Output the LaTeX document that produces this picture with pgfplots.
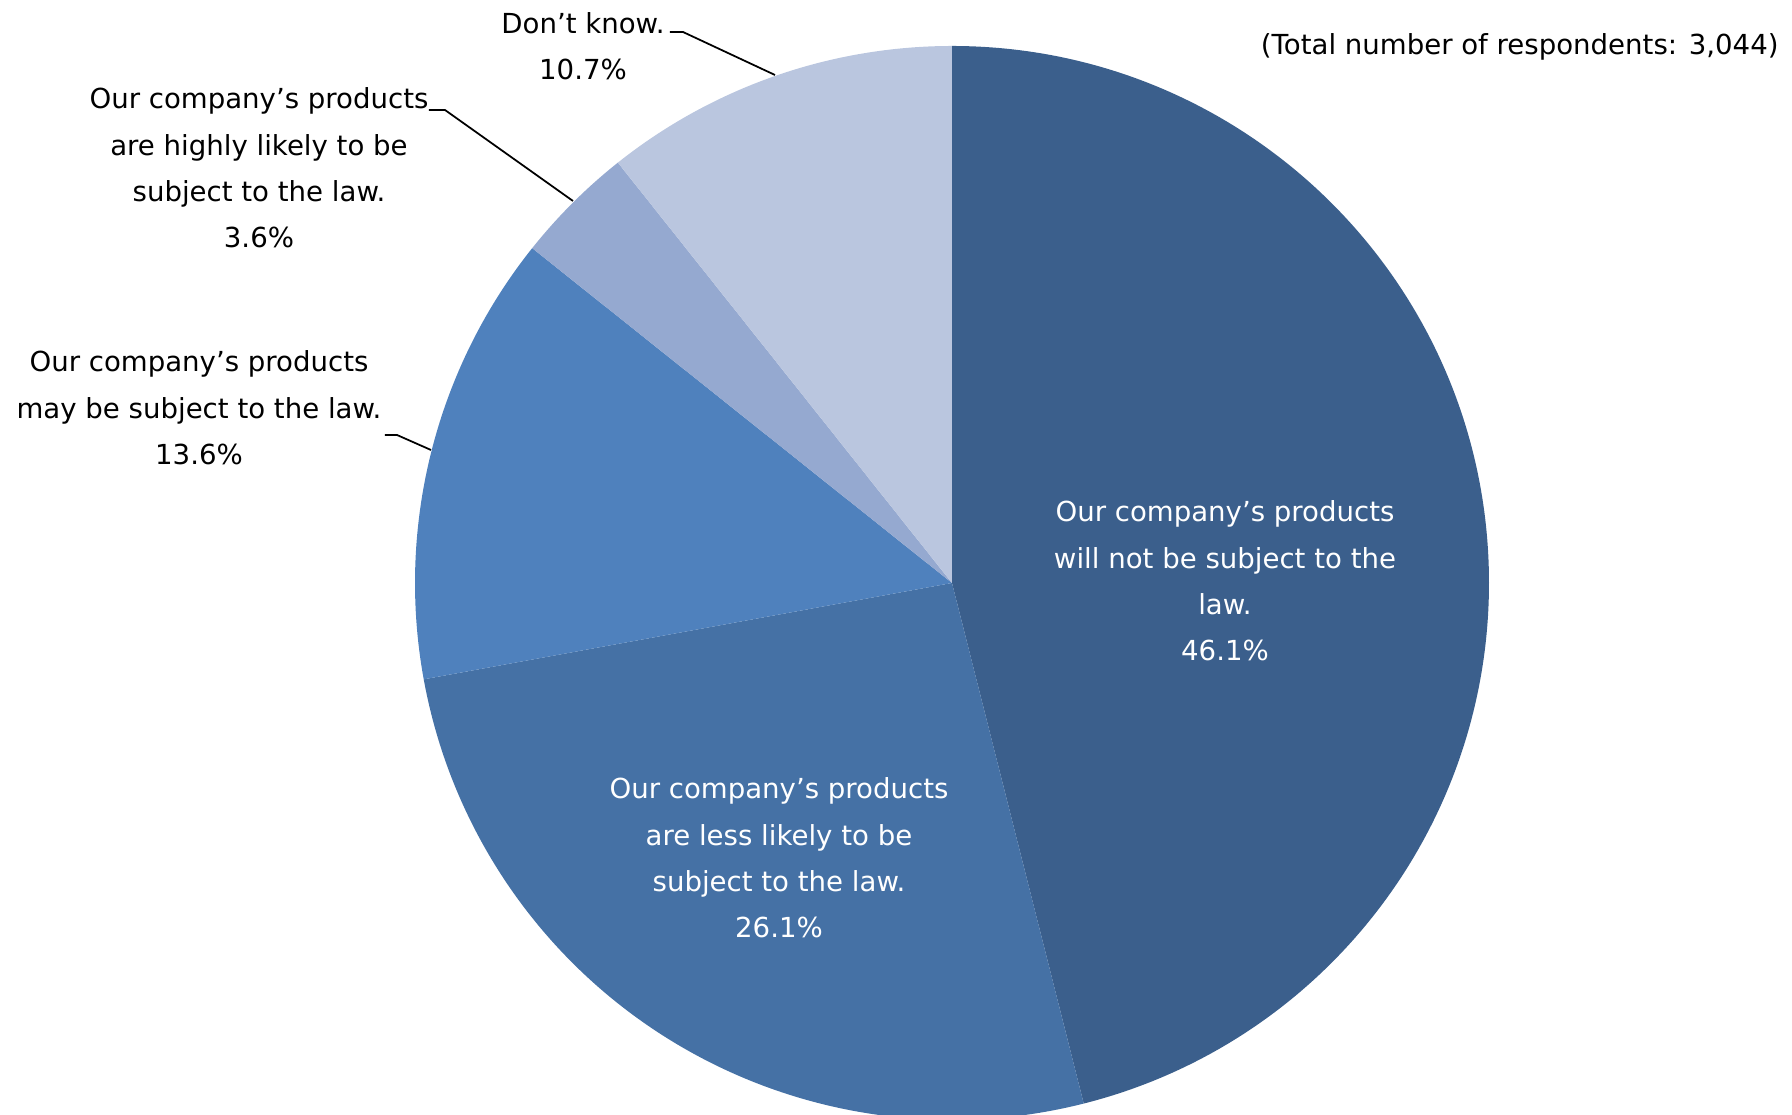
\documentclass[border=0pt]{standalone}
\usepackage{pgfplots}
\usepackage{pgfplotstable}
\usepackage{fontspec}
\setmainfont{DejaVu Sans}
\pgfplotsset{compat=1.18}

\definecolor{c1}{HTML}{3B5F8C}
\definecolor{c2}{HTML}{4571A5}
\definecolor{c3}{HTML}{4F81BD}
\definecolor{c4}{HTML}{95A9D0}
\definecolor{c5}{HTML}{BAC6DF}

% share of respondents, clockwise from 12 o'clock
\pgfplotstableread{
pct  col
46.1 c1
26.1 c2
13.6 c3
3.6  c4
10.7 c5
}\piedata

\newcommand{\lbl}{\fontsize{7.85}{13.2}\selectfont}
\def\R{5.37}

\begin{document}
\begin{tikzpicture}
\begin{axis}[
    hide axis, scale only axis, disabledatascaling,
    x=1cm, y=1cm,
    xmin=-9.52, xmax=8.40,
    ymin=-5.32, ymax=5.83,
    at={(0,0)}, anchor=south west,
    clip=false
]
\pgfplotstablegetrowsof{\piedata}
\pgfmathtruncatemacro\N{\pgfplotsretval-1}
% total (rounded shares add up to 100.1)
\gdef\tot{0}
\foreach \i in {0,...,\N} {
  \pgfplotstablegetelem{\i}{pct}\of\piedata
  \pgfmathsetmacro\t{\tot+\pgfplotsretval}
  \xdef\tot{\t}
}
\gdef\angA{90}
\foreach \i in {0,...,\N} {
  \pgfplotstablegetelem{\i}{pct}\of\piedata \let\p\pgfplotsretval
  \pgfplotstablegetelem{\i}{col}\of\piedata \let\c\pgfplotsretval
  \pgfmathsetmacro\angB{\angA-\p/\tot*360}
  \edef\temp{\noexpand\fill[\c] (axis cs:0,0) -- (axis cs:{\R*cos(\angA)},{\R*sin(\angA)})
     arc[start angle=\angA, end angle=\angB, radius=\R] -- cycle;}
  \temp
  \xdef\angA{\angB}
}

% labels inside
\node[align=center, font=\lbl, text=white] at (axis cs:2.73,0.02)
  {Our company’s products\\will not be subject to the\\law.\\46.1\%};
\node[align=center, font=\lbl, text=white] at (axis cs:-1.73,-2.75)
  {Our company’s products\\are less likely to be\\subject to the law.\\26.1\%};

% labels outside with leaders
\node[align=center, font=\lbl] at (axis cs:-7.53,1.75)
  {Our company’s products\\may be subject to the law.\\13.6\%};
\node[align=center, font=\lbl] at (axis cs:-6.93,4.15)
  {Our company’s products\\are highly likely to be\\subject to the law.\\3.6\%};
\node[align=center, font=\lbl] at (axis cs:-3.69,5.37)
  {Don’t know.\\10.7\%};

\draw[black, line width=0.5pt] (axis cs:-5.67,1.48) -- (axis cs:-5.55,1.48) -- (axis cs:-5.21,1.33);
\draw[black, line width=0.5pt] (axis cs:-5.23,4.73) -- (axis cs:-5.07,4.73) -- (axis cs:-3.79,3.82);
\draw[black, line width=0.5pt] (axis cs:-2.82,5.51) -- (axis cs:-2.69,5.51) -- (axis cs:-1.77,5.08);

\node[anchor=east, font=\lbl] at (axis cs:8.39,5.365) {(Total number of respondents: 3,044)};
\end{axis}
\pgfresetboundingbox
\path[use as bounding box] (0,0) rectangle (17.92,11.15);
\end{tikzpicture}
\end{document}
